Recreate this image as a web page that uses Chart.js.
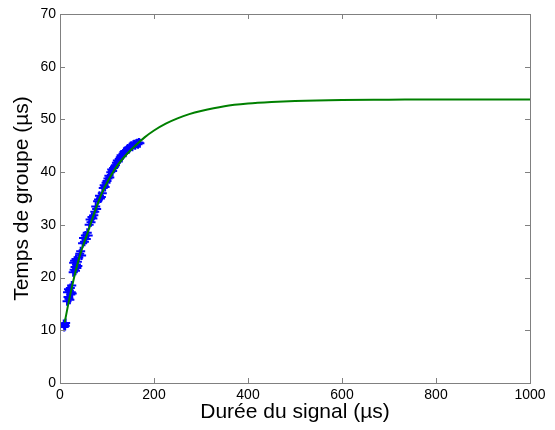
<!DOCTYPE html>
<html><head><meta charset="utf-8">
<script src="https://cdn.jsdelivr.net/npm/chart.js@4"></script>
<style>html,body{margin:0;padding:0;background:#fff}#wrap{width:555px;height:430px}</style>
</head><body><div id="wrap"><canvas id="c" width="555" height="430"></canvas></div>
<script>
const measX = [8,9,10,11,12,15,16,17,18,19,20,21,22,23,24,25,26,28,29,30,31,32,33,34,35,36,37,38,40,42,44,46,48,50,52,54,56,58,60,62,64,66,68,70,72,74,76,78,80,82,84,86,88,90,92,94,96,98,100,102,104,106,108,110,112,114,116,118,120,122,124,126,128,130,132,134,136,138,140,142,144,146,148,150,152,154,156,158,160,162,164,166,168,170];
const measY = [11.2,10.6,11.0,10.8,11.4,15.5,17.2,16.3,17.8,16.0,17.5,15.8,18.0,16.8,17.2,18.5,17.0,21.0,22.8,21.5,23.2,22.0,21.3,23.5,22.5,21.8,23.0,22.2,23.8,24.5,25.0,24.2,26.5,27.5,26.8,28.0,27.3,28.5,28.0,30.0,31.0,30.5,31.5,31.2,31.8,32.5,33.5,33.0,34.5,34.8,35.5,35.0,35.3,36.0,37.0,37.5,37.2,38.0,38.3,38.8,39.3,39.0,40.0,40.5,40.2,40.8,41.0,41.3,41.8,42.2,42.0,42.5,42.8,43.2,43.0,43.5,43.8,44.0,43.8,44.2,44.5,44.3,44.7,44.9,45.0,44.8,45.2,45.3,45.1,45.4,45.5,45.3,45.6,45.5];
const fitX = [10,20,30,40,50,60,70,80,90,100,120,140,160,180,200,225,250,275,300,350,400,450,500,600,700,800,900,1000];
const fitY = [11.5,16.0,20.0,23.5,26.3,28.8,31.5,34.0,36.2,38.0,41.0,43.2,45.0,46.6,47.9,49.2,50.2,51.0,51.6,52.5,53.0,53.3,53.5,53.7,53.75,53.8,53.8,53.8];
const xTicks = [0,200,400,600,800,1000];
const yTicks = [0,10,20,30,40,50,60,70];

const FONT = "'Liberation Sans', Arial, sans-serif";
const AXC = '#808080';

const boxPlugin = {
  id: 'box',
  afterDraw(chart) {
    const {ctx, chartArea: a, scales: {x, y}} = chart;
    ctx.save();
    ctx.strokeStyle = AXC;
    ctx.lineWidth = 1;
    ctx.beginPath();
    ctx.rect(a.left + 0.5, a.top + 0.5, a.right - a.left, a.bottom - a.top);
    ctx.stroke();
    ctx.beginPath();
    xTicks.forEach(v => {
      const px = Math.round(x.getPixelForValue(v)) + 0.5;
      ctx.moveTo(px, a.bottom); ctx.lineTo(px, a.bottom - 5);
      ctx.moveTo(px, a.top); ctx.lineTo(px, a.top + 5);
    });
    yTicks.forEach(v => {
      const py = Math.round(y.getPixelForValue(v)) + 0.5;
      ctx.moveTo(a.left, py); ctx.lineTo(a.left + 5, py);
      ctx.moveTo(a.right, py); ctx.lineTo(a.right - 5, py);
    });
    ctx.stroke();
    ctx.restore();
  }
};

new Chart(document.getElementById('c'), {
  type: 'scatter',
  data: {
    datasets: [
      {
        label: 'mesure',
        data: measX.map((v, i) => ({x: v, y: measY[i]})),
        showLine: false,
        pointStyle: 'cross',
        pointRadius: 4.5,
        borderWidth: 2,
        borderColor: '#0000ff',
        backgroundColor: '#0000ff',
        order: 2
      },
      {
        label: 'fit',
        data: fitX.map((v, i) => ({x: v, y: fitY[i]})),
        showLine: true,
        pointRadius: 0,
        borderColor: '#008000',
        borderWidth: 2,
        cubicInterpolationMode: 'monotone',
        fill: false,
        order: 1
      }
    ]
  },
  options: {
    responsive: false,
    animation: false,
    layout: {padding: {top: 14, right: 25, left: 0, bottom: 0}},
    plugins: {legend: {display: false}, tooltip: {enabled: false}},
    scales: {
      x: {
        type: 'linear', min: 0, max: 1000,
        afterBuildTicks: s => { s.ticks = xTicks.map(v => ({value: v})); },
        afterFit: s => { s.height = 47; },
        grid: {display: false, drawTicks: false},
        border: {display: true, color: AXC},
        ticks: {color: '#000', padding: 4, maxRotation: 0, font: {family: FONT, size: 14}, callback: v => String(v)},
        title: {display: true, text: 'Durée du signal (µs)', color: '#000', font: {family: FONT, size: 21}, padding: {top: 0, bottom: 5}}
      },
      y: {
        type: 'linear', min: 0, max: 70,
        afterBuildTicks: s => { s.ticks = yTicks.map(v => ({value: v})); },
        afterFit: s => { s.width = 60; },
        grid: {display: false, drawTicks: false},
        border: {display: true, color: AXC},
        ticks: {color: '#000', padding: 4, font: {family: FONT, size: 14}, callback: v => String(v)},
        title: {display: true, text: 'Temps de groupe (µs)', color: '#000', font: {family: FONT, size: 21}, padding: {top: 10, bottom: 0}}
      }
    }
  },
  plugins: [boxPlugin]
});
</script></body></html>
